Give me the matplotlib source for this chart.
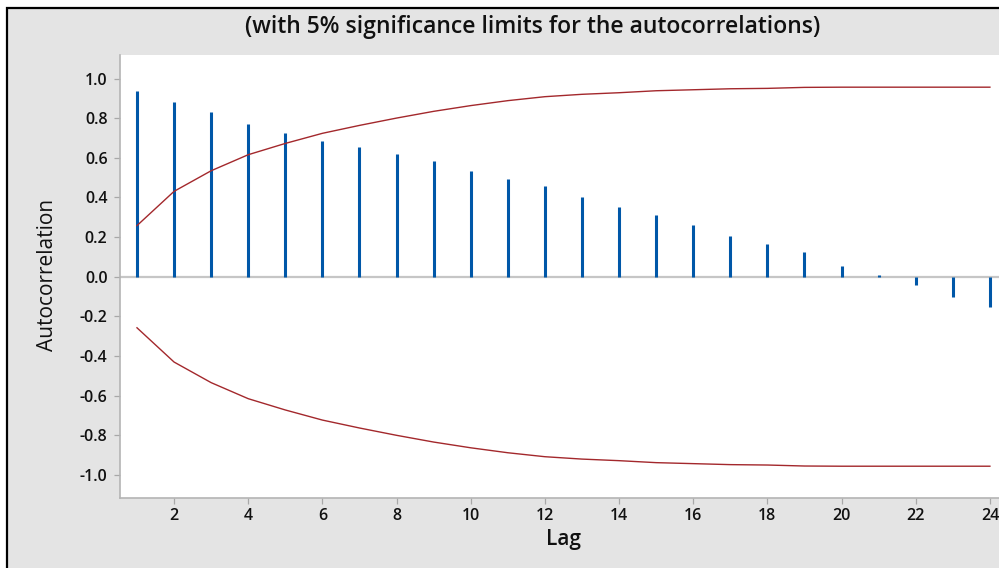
import matplotlib.pyplot as plt
from matplotlib.patches import Rectangle

plt.rcParams["axes.unicode_minus"] = False
plt.rcParams["font.family"] = ["Open Sans", "DejaVu Sans"]

# Autocorrelation values by lag
lags = list(range(1, 25))
acf = [0.94, 0.884, 0.833, 0.773, 0.727, 0.687, 0.657, 0.621, 0.586, 0.535,
       0.495, 0.46, 0.40, 0.35, 0.31, 0.263, 0.207, 0.167, 0.123, 0.056,
       0.01, -0.042, -0.10, -0.152]
# 5% significance limits (upper; lower is the negative)
limit = [0.258, 0.431, 0.535, 0.616, 0.673, 0.724, 0.764, 0.801, 0.835, 0.864,
         0.889, 0.909, 0.921, 0.929, 0.939, 0.944, 0.949, 0.951, 0.956, 0.957,
         0.957, 0.957, 0.957, 0.957]

W, H = 999, 568
fig = plt.figure(figsize=(W / 100, H / 100), dpi=100, facecolor="white")

# grey panel with black frame (cropped on the right and bottom)
fig.add_artist(Rectangle((7 / W, -0.05), 1.1, 1 - 8 / H + 0.05,
                         transform=fig.transFigure, facecolor="#e4e4e4",
                         edgecolor="black", linewidth=1.6, zorder=0))

ax = fig.add_axes([120 / W, 1 - 498 / H, 907 / W, 443 / H])
ax.set_facecolor("white")

ax.axhline(0, color="#c6c6c6", linewidth=1.6, zorder=1)
ax.vlines(lags, 0, acf, color="#0057a8", linewidth=2.2, zorder=2)
ax.plot(lags, limit, color="#a3282c", linewidth=1.0, zorder=3)
ax.plot(lags, [-v for v in limit], color="#a3282c", linewidth=1.0, zorder=3)

ax.set_xlim(0.542, 25.0)
ax.set_ylim(-1.1175, 1.1195)
ax.set_xticks(range(2, 25, 2))
yt = [-1.0, -0.8, -0.6, -0.4, -0.2, 0.0, 0.2, 0.4, 0.6, 0.8, 1.0]
ax.set_yticks(yt)
ax.set_yticklabels([f"{v:.1f}" for v in yt])

for s in ["top", "right"]:
    ax.spines[s].set_visible(False)
for s in ["left", "bottom"]:
    ax.spines[s].set_color("#b4b4b4")
    ax.spines[s].set_linewidth(1.2)

ax.tick_params(axis="both", direction="out", length=4, width=0.9,
               color="#a8a8a8", labelsize=11.5, labelcolor="#111111")
ax.tick_params(axis="y", pad=5)
ax.tick_params(axis="x", pad=3)
for lab in ax.get_xticklabels() + ax.get_yticklabels():
    lab.set_fontweight("semibold")

fig.text(533 / W, 1 - 27 / H,
         "(with 5% significance limits for the autocorrelations)",
         ha="center", va="center", fontsize=16.5, fontweight="semibold",
         color="#111111")
fig.text(48 / W, 1 - 275 / H, "Autocorrelation", rotation=90,
         ha="center", va="center", fontsize=15, color="#111111")
fig.text(563 / W, 1 - 539 / H, "Lag", ha="center", va="center",
         fontsize=15, fontweight="semibold", color="#111111")

fig.savefig("out.png", dpi=100, facecolor=fig.get_facecolor())
